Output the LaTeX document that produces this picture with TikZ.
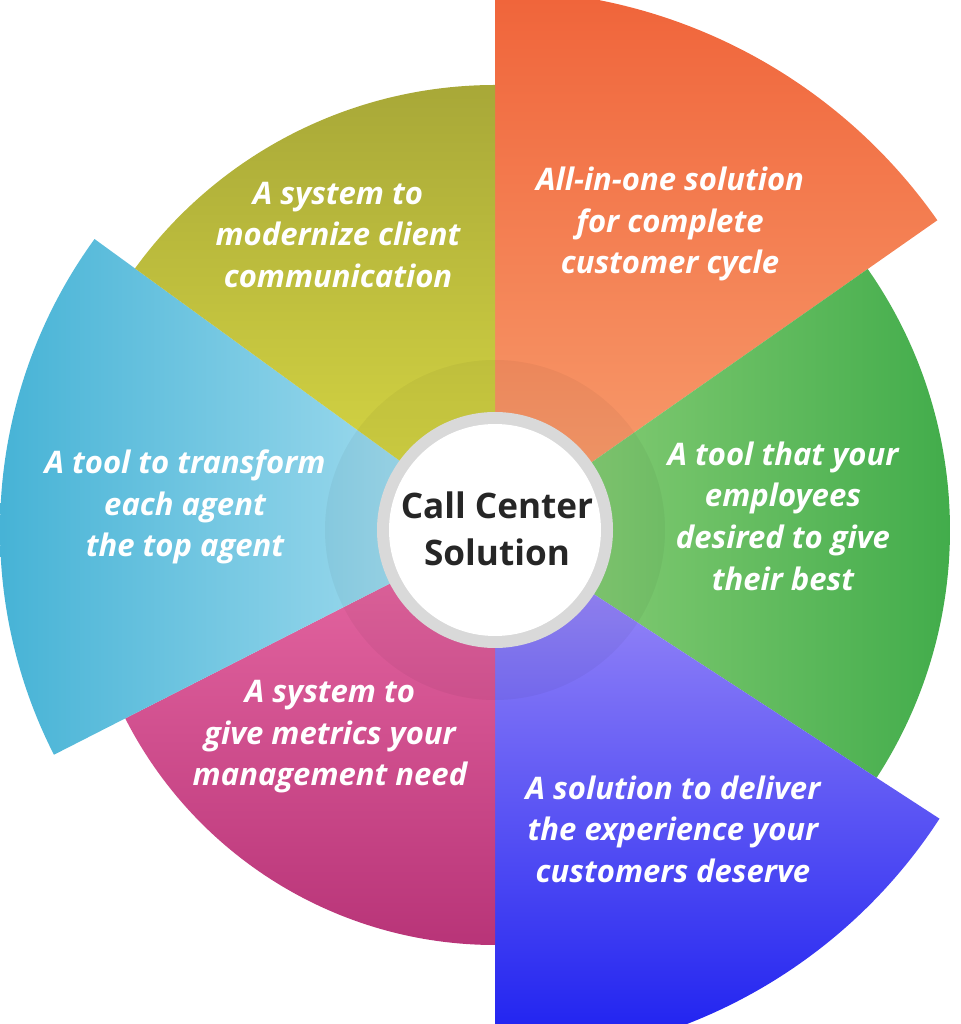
\documentclass[tikz,border=0pt]{standalone}
\usepackage{fontspec}
\setmainfont{Open Sans}
\begin{document}
\begin{tikzpicture}[x=0.03cm,y=0.03cm,
  lbl/.style={text=white,align=center,font=\fontsize{26.5}{35.5}\selectfont\bfseries\itshape}]
\useasboundingbox (0,0) rectangle (961,1024);
\coordinate (C) at (495,494);
\definecolor{o1}{HTML}{F0643A}\definecolor{o2}{HTML}{F8A070}
\definecolor{g1}{HTML}{3DAA48}\definecolor{g2}{HTML}{92D27C}
\definecolor{p1}{HTML}{1A1EF0}\definecolor{p2}{HTML}{A492F8}
\definecolor{m1}{HTML}{B83478}\definecolor{m2}{HTML}{E86AA4}
\definecolor{c1}{HTML}{40B0D4}\definecolor{c2}{HTML}{B0E2F2}
\definecolor{y1}{HTML}{A8A838}\definecolor{y2}{HTML}{DADA44}
% sectors
\shade[top color=o1,bottom color=o2] (C) -- ++(35:540) arc[start angle=35,end angle=90,radius=540] -- cycle;
\shade[right color=g1,left color=g2] (C) -- ++(-33:455) arc[start angle=-33,end angle=35,radius=455] -- cycle;
\shade[bottom color=p1,top color=p2] (C) -- ++(-90:530) arc[start angle=-90,end angle=-33,radius=530] -- cycle;
\shade[bottom color=m1,top color=m2] (C) -- ++(-153:415) arc[start angle=-153,end angle=-90,radius=415] -- cycle;
\shade[left color=c1,right color=c2] (C) -- ++(144:495) arc[start angle=144,end angle=207,radius=495] -- cycle;
\shade[top color=y1,bottom color=y2] (C) -- ++(90:445) arc[start angle=90,end angle=144,radius=445] -- cycle;
% inner shadow ring
\fill[black,opacity=0.04] (C) circle[radius=170];
\fill[gray!30] (C) circle[radius=118];
\fill[white] (C) circle[radius=106];
\node[align=center,font=\fontsize{30}{40}\selectfont\bfseries,text=black!85] (center) at (497,495) {Call Center\\Solution};
% labels
\node[lbl] (t1) at (670,800) {All-in-one solution\\for complete\\customer cycle};
\node[lbl] (t2) at (783,508) {A tool that your\\employees\\desired to give\\their best};
\node[lbl] (t3) at (673,195) {A solution to deliver\\the experience your\\customers deserve};
\node[lbl] (t4) at (330,287) {A system to\\give metrics your\\management need};
\node[lbl] (t5) at (185,517) {A tool to transform\\each agent\\the top agent};
\node[lbl] (t6) at (338,789) {A system to\\modernize client\\communication};
\end{tikzpicture}
\end{document}
